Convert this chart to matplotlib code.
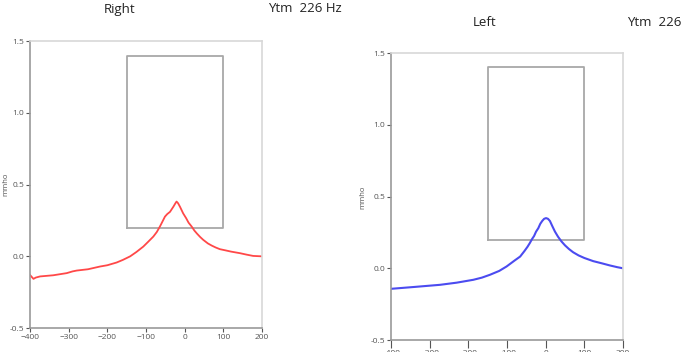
import matplotlib.pyplot as plt

plt.rcParams['font.family'] = ['Open Sans', 'DejaVu Sans']

# pressure (daPa) vs admittance (mmho)
right_x = [-400, -391, -385, -374, -340, -305, -290, -279, -250, -219, -200, -176, -160, -141,
           -125, -107, -95, -81, -72, -64, -57, -51, -45, -38, -29, -24, -21, -17, -12, -4, 4,
           10, 18, 25, 32, 40, 48, 60, 70, 80, 91, 105, 120, 143, 160, 177, 200]
right_y = [-0.13, -0.157, -0.148, -0.14, -0.132, -0.117, -0.105, -0.099, -0.09, -0.071, -0.062,
           -0.043, -0.025, 0.0, 0.03, 0.068, 0.1, 0.138, 0.17, 0.208, 0.245, 0.277, 0.295, 0.31,
           0.347, 0.37, 0.382, 0.37, 0.345, 0.30, 0.265, 0.235, 0.208, 0.18, 0.158, 0.135, 0.115,
           0.09, 0.075, 0.062, 0.05, 0.042, 0.033, 0.022, 0.012, 0.003, 0.0]

left_x = [-400, -340, -273, -230, -187, -165, -144, -120, -101, -90, -80, -66, -55, -47, -41,
          -35, -30, -25, -19, -14, -9, -4, 1, 6, 11, 17, 24, 32, 41, 50, 60, 71, 85, 100, 123,
          145, 166, 185, 200]
left_y = [-0.143, -0.13, -0.115, -0.1, -0.08, -0.065, -0.045, -0.018, 0.013, 0.035, 0.055, 0.082,
          0.12, 0.15, 0.176, 0.205, 0.225, 0.255, 0.28, 0.31, 0.33, 0.345, 0.35, 0.345, 0.33,
          0.295, 0.256, 0.22, 0.187, 0.16, 0.135, 0.112, 0.09, 0.072, 0.05, 0.035, 0.02, 0.008, 0.0]

# normal range box
box_x = [-150, 100]
box_y = [0.2, 1.4]

xticks = [-400, -300, -200, -100, 0, 100, 200]
yticks = [-0.5, 0.0, 0.5, 1.0, 1.5]

fig = plt.figure(figsize=(6.85, 3.52), dpi=100)
ax1 = fig.add_axes([0.0438, 0.068, 0.3387, 0.815])
ax2 = fig.add_axes([0.5708, 0.034, 0.3387, 0.815])


def style(ax):
    ax.set_xlim(-400, 200)
    ax.set_ylim(-0.5, 1.5)
    ax.set_xticks(xticks)
    ax.set_yticks(yticks)
    ax.set_yticklabels([f"{v:.1f}" for v in yticks])
    ax.tick_params(labelsize=6, colors='#555555', length=3, width=0.8, pad=1)
    ax.spines['left'].set_color('#999999')
    ax.spines['bottom'].set_color('#999999')
    ax.spines['top'].set_color('#d8d8d8')
    ax.spines['right'].set_color('#d8d8d8')
    for s in ax.spines.values():
        s.set_linewidth(1.2)
    ax.plot([box_x[0], box_x[1], box_x[1], box_x[0], box_x[0]],
            [box_y[0], box_y[0], box_y[1], box_y[1], box_y[0]],
            color='#a8a8a8', lw=1.3)


style(ax1)
style(ax2)
ax2.tick_params(axis='x', length=6, pad=1)

ax1.plot(right_x, right_y, color='#ff4848', lw=1.3)
ax2.plot(left_x, left_y, color='#4b4bf0', lw=1.5)

fig.text(6 / 685, 1 - 184 / 352, 'mmho', fontsize=5.5, rotation=90, ha='center', va='center', color='#555555')
fig.text(363 / 685, 1 - 197 / 352, 'mmho', fontsize=5.5, rotation=90, ha='center', va='center', color='#555555')

fig.text(120 / 685, 1 - 9 / 352, 'Right', fontsize=9.5, ha='center', va='center', color='#222222')
fig.text(268 / 685, 1 - 9 / 352, 'Ytm  226 Hz', fontsize=9.5, ha='left', va='center', color='#222222')
fig.text(485 / 685, 1 - 23 / 352, 'Left', fontsize=9.5, ha='center', va='center', color='#222222')
fig.text(627 / 685, 1 - 23 / 352, 'Ytm  226', fontsize=9.5, ha='left', va='center', color='#222222')

fig.savefig('out.png', dpi=100)
